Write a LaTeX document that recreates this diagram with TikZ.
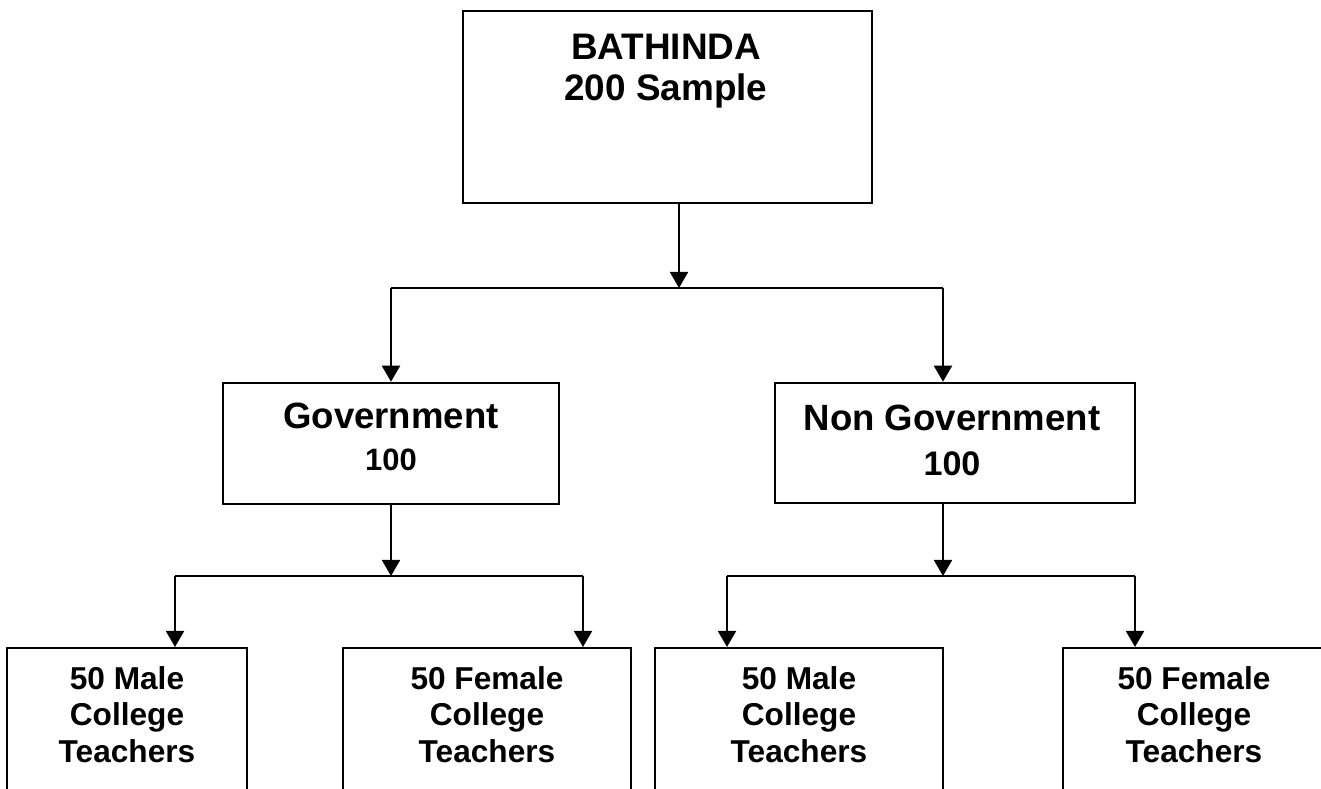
\documentclass[tikz,border=0pt]{standalone}
\usepackage{fontspec}
\setmainfont{Liberation Sans}
\usetikzlibrary{arrows.meta,positioning}

\tikzset{
  box/.style={rectangle, draw, line width=0.7pt, inner sep=0pt},
  lbl/.style={align=center, inner sep=0pt},
  link/.style={line width=0.55pt},
  arr/.style={link, -{Triangle[width=1.8mm,length=1.6mm]}},
}

\begin{document}
\begin{tikzpicture}
\useasboundingbox (0,0) rectangle (13.21,7.89);

% top
\node[box, minimum width=4.09cm, minimum height=1.92cm] (top) at (6.675,6.82) {};
\node[lbl, anchor=north, font={\bfseries\fontsize{10.5}{11.7}\selectfont}] (toptxt) at (6.66,7.555) {BATHINDA\\200 Sample};

% middle row
\node[box, minimum width=3.36cm, minimum height=1.21cm] (gov) at (3.91,3.455) {};
\node[box, minimum width=3.60cm, minimum height=1.20cm] (ngov) at (9.55,3.46) {};
\node[lbl, font={\bfseries\fontsize{10.4}{11.9}\selectfont}] (govtxt) at (3.91,3.525) {Government\\{\fontsize{8.8}{10}\selectfont 100}};
\node[lbl, font={\bfseries\fontsize{10.4}{12.8}\selectfont}] (ngovtxt) at (9.52,3.49) {Non Government\\{\fontsize{9.7}{11}\selectfont 100}};

% bottom row
\node[box, anchor=north, minimum width=2.40cm, minimum height=1.6cm] (m1) at (1.27,1.42) {};
\node[box, anchor=north, minimum width=2.88cm, minimum height=1.6cm] (f1) at (4.87,1.42) {};
\node[box, anchor=north, minimum width=2.88cm, minimum height=1.6cm] (m2) at (7.99,1.42) {};
\node[box, anchor=north, minimum width=2.62cm, minimum height=1.6cm] (f2) at (11.94,1.42) {};

\node[lbl, anchor=north, font={\bfseries\fontsize{9}{10.4}\selectfont}] (m1txt) at (1.27,1.235) {50 Male\\College\\Teachers};
\node[lbl, anchor=north, font={\bfseries\fontsize{9}{10.4}\selectfont}] (f1txt) at (4.87,1.235) {50 Female\\College\\Teachers};
\node[lbl, anchor=north, font={\bfseries\fontsize{9}{10.4}\selectfont}] (m2txt) at (7.99,1.235) {50 Male\\College\\Teachers};
\node[lbl, anchor=north, font={\bfseries\fontsize{9}{10.4}\selectfont}] (f2txt) at (11.94,1.235) {50 Female\\College\\Teachers};

% first split
\coordinate (j1) at (6.79,5.01);
\coordinate (j1l) at (3.91,5.01);
\coordinate (j1r) at (9.43,5.01);
\draw[arr] (j1 |- top.south) -- (j1);
\draw[link] (j1l) -- (j1r);
\draw[arr] (j1l) -- (gov.north);
\draw[arr] (j1r) -- (j1r |- ngov.north);

% government split
\coordinate (j2) at (3.91,2.13);
\coordinate (j2l) at (1.75,2.13);
\coordinate (j2r) at (5.83,2.13);
\draw[arr] (gov.south) -- (j2);
\draw[link] (j2l) -- (j2r);
\draw[arr] (j2l) -- (j2l |- m1.north);
\draw[arr] (j2r) -- (j2r |- f1.north);

% non government split
\coordinate (j3) at (9.43,2.13);
\coordinate (j3l) at (7.27,2.13);
\coordinate (j3r) at (11.35,2.13);
\draw[arr] (j3 |- ngov.south) -- (j3);
\draw[link] (j3l) -- (j3r);
\draw[arr] (j3l) -- (j3l |- m2.north);
\draw[arr] (j3r) -- (j3r |- f2.north);
\end{tikzpicture}
\end{document}
